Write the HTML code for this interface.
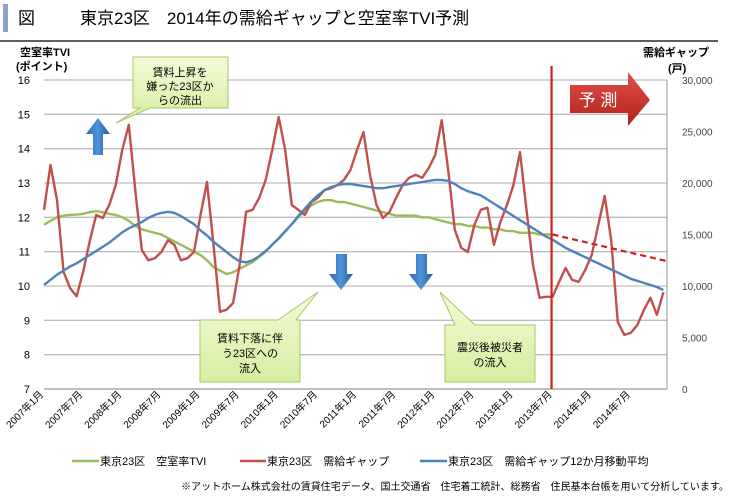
<!DOCTYPE html>
<html><head><meta charset="utf-8">
<style>
body{margin:0;background:#fff;font-family:"Liberation Sans","Noto Sans CJK JP",sans-serif;}
#wrap{position:relative;width:737px;height:497px;overflow:hidden;background:#fff}
svg text{font-family:"Liberation Sans","Noto Sans CJK JP",sans-serif}
</style></head>
<body>
<div id="wrap">
<svg id="chart" width="737" height="497">
<defs>
<linearGradient id="gbox" x1="0" y1="0" x2="0" y2="1"><stop offset="0" stop-color="#f4fbd8"/><stop offset="1" stop-color="#d6eea0"/></linearGradient>
<linearGradient id="bArrow" x1="0" y1="0" x2="1" y2="0"><stop offset="0" stop-color="#2a6cb5"/><stop offset="0.5" stop-color="#4f93d8"/><stop offset="1" stop-color="#1f5aa0"/></linearGradient>
<linearGradient id="rArrow" x1="0" y1="0" x2="0" y2="1"><stop offset="0" stop-color="#e0504a"/><stop offset="1" stop-color="#b3201b"/></linearGradient>
</defs>
<rect x="3" y="4" width="5" height="28" fill="#8fa3c8"/>
<text x="18" y="24" font-size="17" fill="#000">図</text>
<text x="80" y="24" font-size="17" fill="#000">東京23区　2014年の需給ギャップと空室率TVI予測</text>
<line x1="0" y1="41" x2="718" y2="41" stroke="#000" stroke-width="1.2"/>
<text x="20" y="56" font-size="11" font-weight="bold">空室率TVI</text>
<text x="16" y="70" font-size="11" font-weight="bold">(ポイント)</text>
<text x="643" y="56" font-size="11" font-weight="bold">需給ギャップ</text>
<text x="668" y="72" font-size="11" font-weight="bold">(戸)</text>
<g id="grid"></g><g id="series"></g>
<g id="annot"></g>
<text x="455" y="490" font-size="10" fill="#000" text-anchor="middle">※アットホーム株式会社の賃貸住宅データ、国土交通省　住宅着工統計、総務省　住民基本台帳を用いて分析しています。</text>
</svg>
</div>
<script>
const leftTicks=[7,8,9,10,11,12,13,14,15,16];
const rightTicks=[0,5000,10000,15000,20000,25000,30000];
const rightTickLabels=["0","5,000","10,000","15,000","20,000","25,000","30,000"];
const xLabels=["2007年1月","2007年7月","2008年1月","2008年7月","2009年1月","2009年7月","2010年1月","2010年7月","2011年1月","2011年7月","2012年1月","2012年7月","2013年1月","2013年7月","2014年1月","2014年7月"];
const gapValues=[17400,21750,18350,11350,9800,9000,11350,14300,16900,16600,17850,19800,23200,25650,19300,13500,12500,12700,13300,14450,14000,12500,12700,13300,16900,20100,14000,7500,7700,8350,12050,17200,17400,18550,20300,23200,26400,23200,17850,17400,16900,18150,18550,19300,19500,19800,20300,21250,23200,24950,20800,17850,16600,17200,18550,19800,20500,20800,20500,21450,22700,26100,21250,15450,13700,13300,15900,17400,17600,14000,16200,17850,19800,23000,17400,12050,8850,8950,8950,10400,11750,10600,10400,11550,13000,15900,18750,14450,6500,5250,5450,6200,7650,8850,7200,9400];
const maValues=[10100,10600,11100,11500,11900,12200,12600,13000,13400,13800,14200,14700,15200,15600,15900,16200,16600,16900,17100,17200,17100,16800,16400,16000,15400,14900,14300,13800,13300,12800,12400,12300,12500,12900,13400,14000,14600,15300,16000,16800,17500,18200,18800,19300,19600,19800,19900,19900,19800,19700,19600,19500,19500,19600,19700,19800,19900,20000,20100,20200,20300,20300,20200,19900,19500,19200,19000,18800,18400,18000,17600,17200,16800,16400,16000,15600,15200,14800,14500,14100,13700,13400,13100,12800,12500,12200,11900,11600,11300,11000,10700,10500,10300,10100,9900,9600];
const tviValues=[11.78,11.9,12.0,12.05,12.07,12.08,12.1,12.15,12.18,12.15,12.1,12.07,12.0,11.9,11.75,11.65,11.6,11.55,11.5,11.4,11.3,11.2,11.1,11.0,10.9,10.75,10.55,10.45,10.35,10.4,10.5,10.6,10.7,10.85,11.0,11.2,11.4,11.6,11.8,12.0,12.2,12.35,12.45,12.5,12.5,12.45,12.45,12.4,12.35,12.3,12.25,12.2,12.15,12.1,12.05,12.05,12.05,12.05,12.0,12.0,11.95,11.9,11.85,11.8,11.8,11.75,11.75,11.7,11.7,11.65,11.65,11.6,11.6,11.55,11.55,11.55,11.5,11.5,11.5];
const forecastIdx=[78,95.6];
const forecastValues=[11.5,10.72];
const forecastStartMonth=78;

const NS="http://www.w3.org/2000/svg";
const X0=44,XS=6.52,YT=80,YB=389;
const xs=i=>X0+i*XS;
const yL=v=>YB-(v-7)/9*(YB-YT);
const yR=v=>YB-v/30000*(YB-YT);
function mk(tag,attrs,parent){const e=document.createElementNS(NS,tag);for(const k in attrs)e.setAttribute(k,attrs[k]);parent.appendChild(e);return e;}
const grid=document.getElementById('grid'),ser=document.getElementById('series'),ann=document.getElementById('annot');
leftTicks.forEach(t=>{
 const l=mk('line',{x1:X0,x2:667,y1:yL(t),y2:yL(t),stroke:t==7?'#999':'#bdbdbd','stroke-width':1.3},grid);
 
 
 const tx=mk('text',{x:30,y:yL(t)+4,'font-size':11,'text-anchor':'end'},grid);tx.textContent=t;
 
 
});
const ra=mk('line',{x1:667,x2:667,y1:YT,y2:YB,stroke:'#999'},grid);


rightTicks.forEach((t,k)=>{
 const tx=mk('text',{x:682,y:yR(t)+4,'font-size':10,fill:'#444'},grid);tx.textContent=rightTickLabels[k];
 
 
});
xLabels.forEach((s,k)=>{
 const x=xs(k*6);
 const tx=mk('text',{x:x,y:YB+6,'font-size':10,'text-anchor':'end',transform:`rotate(-45 ${x} ${YB+6})`},grid);tx.textContent=s;
 
 
});
function line(vals,fy,color,name,w){
 const d=vals.map((v,i)=>(i?'L':'M')+xs(i).toFixed(1)+','+fy(v).toFixed(1)).join('');
 const p=mk('path',{d:d,fill:'none',stroke:color,'stroke-width':w||2.4,'stroke-linejoin':'round'},ser);
 
 
}
line(tviValues,yL,'#9bbb59','tvi-line');
line(gapValues,yR,'#c0504d','gap-line');
line(maValues,yR,'#4f81bd','gap-moving-average-line');
const fd=forecastIdx.map((t,i)=>(i?'L':'M')+xs(t)+','+yL(forecastValues[i])).join('');
const fp=mk('path',{d:fd,fill:'none',stroke:'#d0201c','stroke-width':2.2,'stroke-dasharray':'6,4'},ser);


const vl=mk('line',{x1:xs(forecastStartMonth)-1,x2:xs(forecastStartMonth)-1,y1:66,y2:YB,stroke:'#d0201c','stroke-width':2.2},ser);



ann.innerHTML=`
<g><path d="M133,57 H228 V108 H150 L116,123 L140,108 H133 Z" fill="url(#gbox)" stroke="#a9c56a"/>
<text x="180" y="76" font-size="11" text-anchor="middle">賃料上昇を</text><text x="180" y="90" font-size="11" text-anchor="middle">嫌った23区か</text><text x="180" y="104" font-size="11" text-anchor="middle">らの流出</text></g>
<path d="M98,118 L110,134 H103 V155 H93 V134 H86 Z" fill="url(#bArrow)"/>
<path d="M336,254 H347 V274 H353 L341,290 L329,274 H336 Z" fill="url(#bArrow)"/>
<path d="M416,254 H427 V274 H433 L421,290 L409,274 H416 Z" fill="url(#bArrow)"/>
<g><path d="M200,320 H278 L318,292 L296,320 H300 V382 H200 Z" fill="url(#gbox)" stroke="#a9c56a"/>
<text x="250" y="342" font-size="11" text-anchor="middle">賃料下落に伴</text><text x="250" y="357" font-size="11" text-anchor="middle">う23区への</text><text x="250" y="372" font-size="11" text-anchor="middle">流入</text></g>
<g><path d="M445,325 H455 L440,292 L475,325 H535 V382 H445 Z" fill="url(#gbox)" stroke="#a9c56a"/>
<text x="490" y="351" font-size="11" text-anchor="middle">震災後被災者</text><text x="490" y="366" font-size="11" text-anchor="middle">の流入</text></g>
<g><path d="M570,85 H628 V72 L650,100 L628,126 V113 H570 Z" fill="url(#rArrow)"/>
<text x="598" y="106" font-size="17" fill="#fff" text-anchor="middle">予 測</text></g>
<g>
<line x1="72" y1="461" x2="99" y2="461" stroke="#9bbb59" stroke-width="2.5"/><text x="100" y="465" font-size="11">東京23区　空室率TVI</text>
<line x1="240" y1="461" x2="266" y2="461" stroke="#c0504d" stroke-width="2.5"/><text x="267" y="465" font-size="11">東京23区　需給ギャップ</text>
<line x1="420" y1="461" x2="447" y2="461" stroke="#4f81bd" stroke-width="2.5"/><text x="448" y="465" font-size="11">東京23区　需給ギャップ12か月移動平均</text></g>`;
</script>
</body></html>
